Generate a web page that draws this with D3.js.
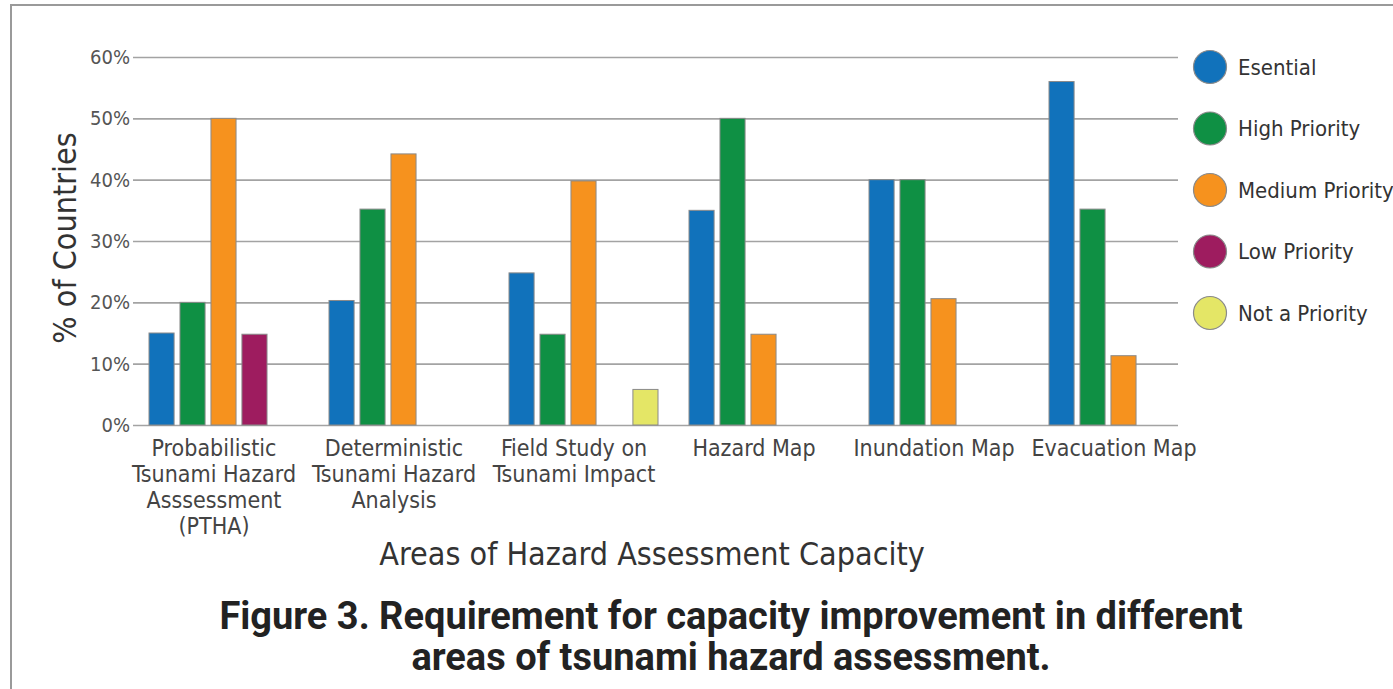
<!DOCTYPE html>
<html lang="en">
<head>
<meta charset="utf-8">
<title>Figure 3</title>
<script src="https://cdn.jsdelivr.net/npm/d3@7"></script>
<style>
  body { margin: 0; background: #fff; }
  svg { display: block; }
  .cond { font-family: "Liberation Sans Narrow", "DejaVu Sans Condensed", Roboto, sans-serif; }
</style>
</head>
<body>
<script>
// chart data
var categories = [
  "Probabilistic Tsunami Hazard Asssessment (PTHA)",
  "Deterministic Tsunami Hazard Analysis",
  "Field Study on Tsunami Impact",
  "Hazard Map",
  "Inundation Map",
  "Evacuation Map"
];
// line breaks used under each group
var categoryLines = [
  ["Probabilistic", "Tsunami Hazard", "Asssessment", "(PTHA)"],
  ["Deterministic", "Tsunami Hazard", "Analysis"],
  ["Field Study on", "Tsunami Impact"],
  ["Hazard Map"],
  ["Inundation Map"],
  ["Evacuation Map"]
];
var seriesNames = ["Esential", "High Priority", "Medium Priority", "Low Priority", "Not a Priority"];
var seriesColors = ["#1172bb", "#0f9044", "#f6921e", "#9e1c5f", "#e4e666"];
// % of countries, one array per series (null = no bar)
var esential = [15, 20.3, 24.8, 35, 40, 56];
var highPriority = [20, 35.2, 14.8, 50, 40, 35.2];
var mediumPriority = [50, 44.2, 39.8, 14.8, 20.6, 11.3];
var lowPriority = [14.8, null, null, null, null, null];
var notAPriority = [null, null, 5.8, null, null, null];
var seriesValues = [esential, highPriority, mediumPriority, lowPriority, notAPriority];
var yTicks = [0, 10, 20, 30, 40, 50, 60];

var W = 1393, H = 689;
var svg = d3.select("body").append("svg").attr("width", W).attr("height", H);

// frame (top and left edge of the figure box)
svg.append("path")
  .attr("d", "M11," + H + "V5H" + W)
  .attr("fill", "none").attr("stroke", "#9a9a9a").attr("stroke-width", 2);

// scales
var x0 = d3.scaleBand().domain(categories).range([149, 1229]);
var x1 = d3.scaleBand().domain(seriesNames).range([0, 149]).paddingInner(0.19);
var y = d3.scaleLinear().domain([0, 60]).range([425, 57]);

// gridlines + y labels
var yAxis = d3.axisLeft(y).tickValues(yTicks).tickFormat(function(d){ return d + "%"; })
  .tickSize(-(1178 - 133)).tickPadding(3);
var gy = svg.append("g").attr("transform", "translate(133,0)").call(yAxis);
gy.select(".domain").remove();
gy.selectAll(".tick line").attr("stroke", "#a3a3a3").attr("stroke-width", 1.6);
gy.selectAll(".tick text")
  .attr("class", "cond").attr("font-size", 20).attr("fill", "#555").attr("dy", "0.32em");

// bars
var groups = svg.append("g").selectAll("g")
  .data(categories).join("g")
  .attr("transform", function(d){ return "translate(" + x0(d) + ",0)"; });

groups.selectAll("rect")
  .data(function(d, i){
    return seriesNames.map(function(s, j){ return {s: s, v: seriesValues[j][i], c: seriesColors[j]}; })
      .filter(function(e){ return e.v !== null; });
  })
  .join("rect")
  .attr("x", function(e){ return x1(e.s); })
  .attr("width", x1.bandwidth())
  .attr("y", function(e){ return y(e.v); })
  .attr("height", function(e){ return y(0) - y(e.v); })
  .attr("fill", function(e){ return e.c; })
  .attr("stroke", "#8a8a8a").attr("stroke-width", 1);

// category labels, centred a bit right of the first four slots
var labelX = (x1(seriesNames[3]) + x1.bandwidth()) / 2 + 6;
groups.append("text")
  .attr("class", "cond")
  .attr("font-size", 23).attr("fill", "#444").attr("text-anchor", "middle")
  .attr("x", labelX)
  .attr("y", 456)
  .selectAll("tspan")
  .data(function(d, i){ return categoryLines[i]; })
  .join("tspan")
  .attr("x", labelX)
  .attr("dy", function(d, i){ return i === 0 ? 0 : 26; })
  .text(function(d){ return d; });

// axis titles
svg.append("text").attr("class", "cond")
  .attr("transform", "translate(76,238) rotate(-90)")
  .attr("text-anchor", "middle").attr("font-size", 32).attr("fill", "#333")
  .text("% of Countries");
svg.append("text").attr("class", "cond")
  .attr("x", 652).attr("y", 565)
  .attr("text-anchor", "middle").attr("font-size", 32).attr("fill", "#333")
  .text("Areas of Hazard Assessment Capacity");

// legend
var legend = svg.append("g").selectAll("g")
  .data(seriesNames).join("g")
  .attr("transform", function(d, i){ return "translate(1210," + (67 + i * 61.5) + ")"; });
legend.append("circle")
  .attr("r", 16.5)
  .attr("fill", function(d, i){ return seriesColors[i]; })
  .attr("stroke", "#8a8a8a").attr("stroke-width", 1.2);
legend.append("text").attr("class", "cond")
  .attr("x", 28).attr("dy", "0.35em")
  .attr("font-size", 22).attr("fill", "#333")
  .text(function(d){ return d; });

// caption
var cap = svg.append("text")
  .attr("font-family", "Roboto, 'Liberation Sans', sans-serif")
  .attr("font-weight", 700).attr("font-size", 38).attr("fill", "#222")
  .attr("text-anchor", "middle");
cap.append("tspan").attr("x", 731).attr("y", 629)
  .text("Figure 3. Requirement for capacity improvement in different");
cap.append("tspan").attr("x", 731).attr("y", 670)
  .text("areas of tsunami hazard assessment.");
</script>
</body>
</html>
